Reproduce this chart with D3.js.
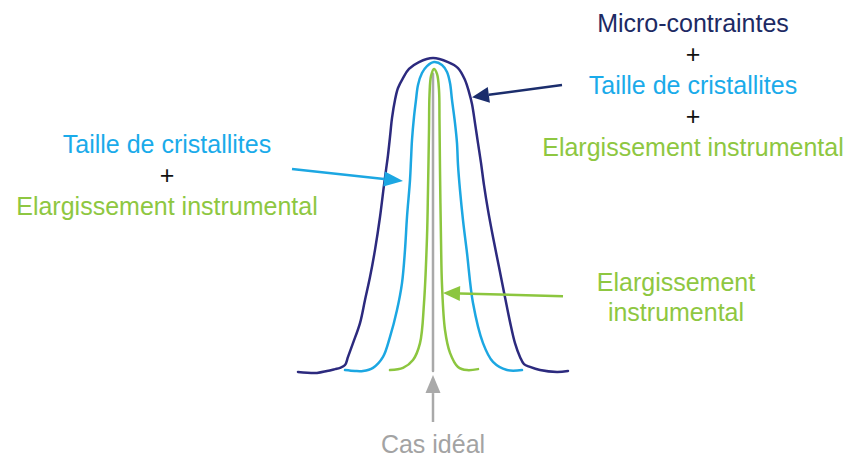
<!DOCTYPE html>
<html>
<head>
<meta charset="utf-8">
<script src="https://cdn.jsdelivr.net/npm/d3@7"></script>
<style>
  html, body { margin: 0; padding: 0; background: #ffffff; }
  svg { display: block; }
</style>
</head>
<body>
<svg id="chart" width="848" height="459"></svg>
<script>
// ---- Data (x: offset from peak centre, y: relative intensity %) ----
const strainX = [-135,-116,-106,-98,-93,-88,-85,-80,-73,-68,-63,-58,-53,-49,-47,-45,-43,-41,-38,-35,-30,-24,-14,0,15,25,32,36,39,42,45,48,51,55,60,66,72,77,82,87,91,97,107,124,135];
const strainY = [-0.3,-0.6,0,0.6,1.0,1.9,4.5,8.9,15.3,22.7,30.0,38.7,49.2,59.4,64.2,69.0,74.8,80.8,86.6,90.4,93.6,96.5,98.7,100,98.7,96.8,93.0,89.1,85.3,79.2,72.8,66.5,59.4,51.4,42.8,33.2,23.6,15.7,8.9,4.5,2.2,1.3,0.3,-0.3,0];

const sizeX = [-88,-78,-70,-60,-50,-43,-36,-31,-28,-26,-23,-22,-21,-19,-17,-15,-11,-6,1,9,14,17,19,22,24,25,27,30,34,40,50,60,74,89];
const sizeY = [0.3,0,0,1.0,4.5,10.9,19.5,28.1,38.7,49.2,61.0,67.4,73.8,81.2,86.6,91.4,95.2,97.4,98.7,97.8,95.5,92.0,86.6,79.2,72.8,65.8,57.8,48.2,37.7,21.7,8.9,2.9,0.3,0.3];

const instrX = [-43,-30,-20,-13,-9,-6,-5,-4,-3.5,-2,1,4,6,6.5,7,8,9,12,17,25,34,45];
const instrY = [0.3,1.0,3.5,8.9,21.7,42.8,57.8,77.0,88.2,94.2,96.5,94.9,89.8,80.2,64.2,41.9,27.5,13.1,5.8,1.3,0.3,0.6];

const idealX = [0, 0];
const idealY = [95, 0];

// Annotation texts
const labelStrain = ["Micro-contraintes", "+", "Taille de cristallites", "+", "Elargissement instrumental"];
const labelSize   = ["Taille de cristallites", "+", "Elargissement instrumental"];
const labelInstr  = ["Elargissement", "instrumental"];
const labelIdeal  = ["Cas idéal"];

// Arrow endpoints [x0, y0, x1, y1] (from -> to) in data units
const arrowStrain = [129, 91.4, 39, 87.5];
const arrowSize   = [-141, 64.5, -30, 60.7];
const arrowInstr  = [130, 23.9, 10, 24.9];
const arrowIdeal  = [0, -16.3, 0, -1.3];

// ---- Layout ----
const svg = d3.select("#chart");
const x = d3.scaleLinear().domain([-135, 135]).range([298, 568]);
const y = d3.scaleLinear().domain([0, 100]).range([371, 58]);

const C = {
  strain: "#2c2a7e", strainText: "#1d2a63", strainArrow: "#1b2d6c",
  size: "#1ca7e2", sizeText: "#1aabea",
  instr: "#8cc63f", instrText: "#8ec741",
  ideal: "#a9a9a9", idealText: "#a3a3a3",
  plus: "#111111"
};

const line = d3.line().x(d => x(d[0])).y(d => y(d[1])).curve(d3.curveCatmullRom.alpha(0.5));

function drawCurve(xs, ys, color, w) {
  svg.append("path")
    .datum(xs.map((v, i) => [v, ys[i]]))
    .attr("d", line)
    .attr("fill", "none")
    .attr("stroke", color)
    .attr("stroke-width", w)
    .attr("stroke-linejoin", "round")
    .attr("stroke-linecap", "round");
}

drawCurve(idealX, idealY, C.ideal, 2.5);
drawCurve(instrX, instrY, C.instr, 2.5);
drawCurve(sizeX, sizeY, C.size, 2.5);
drawCurve(strainX, strainY, C.strain, 2.5);

function drawArrow(a, color, headLen, headW) {
  const x0 = x(a[0]), y0 = y(a[1]), x1 = x(a[2]), y1 = y(a[3]);
  const ang = Math.atan2(y1 - y0, x1 - x0);
  const bx = x1 - headLen * Math.cos(ang), by = y1 - headLen * Math.sin(ang);
  svg.append("line")
    .attr("x1", x0).attr("y1", y0).attr("x2", bx).attr("y2", by)
    .attr("stroke", color).attr("stroke-width", 2.5);
  const px = -Math.sin(ang) * headW / 2, py = Math.cos(ang) * headW / 2;
  svg.append("polygon")
    .attr("points", [[x1, y1], [bx + px, by + py], [bx - px, by - py]].map(p => p.join(",")).join(" "))
    .attr("fill", color);
}

drawArrow(arrowStrain, C.strainArrow, 17, 16);
drawArrow(arrowSize, C.size, 19, 15);
drawArrow(arrowInstr, C.instr, 17, 15);
drawArrow(arrowIdeal, C.ideal, 18, 15);

function drawLabel(lines, cx, baseY, colors, lh) {
  const t = svg.append("text")
    .attr("text-anchor", "middle")
    .attr("font-family", "Liberation Sans, Arial, sans-serif")
    .attr("font-size", 25);
  lines.forEach((s, i) => {
    t.append("tspan")
      .attr("x", x(cx))
      .attr("y", y(baseY) + i * lh)
      .attr("fill", colors[i])
      .text(s);
  });
}

drawLabel(labelStrain, 260, 108.3, [C.strainText, C.plus, C.sizeText, C.plus, C.instrText], 31);
drawLabel(labelSize, -266, 69.6, [C.sizeText, C.plus, C.instrText], 31);
drawLabel(labelInstr, 243, 25.6, [C.instrText, C.instrText], 30);
drawLabel(labelIdeal, 0, -26.2, [C.idealText], 30);
</script>
</body>
</html>
